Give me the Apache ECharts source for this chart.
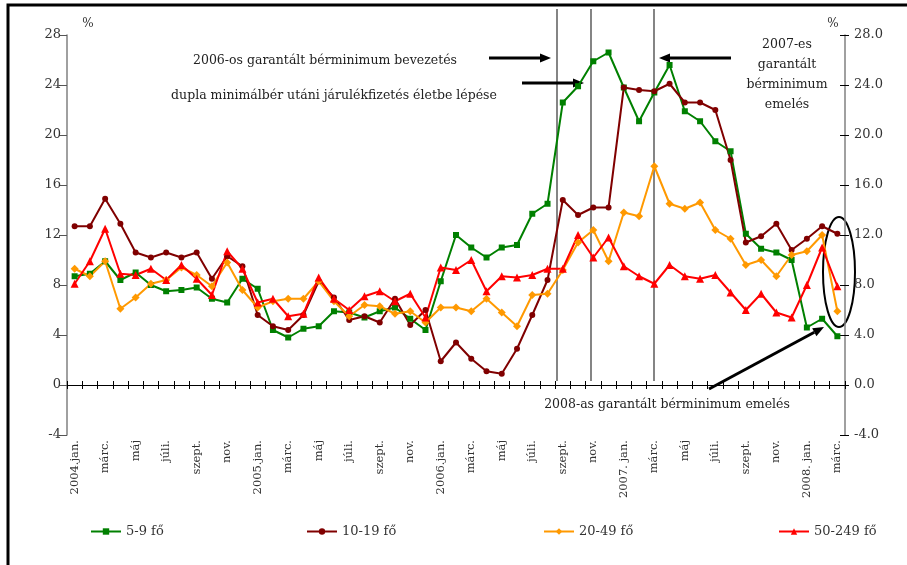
<!DOCTYPE html>
<html>
<head>
<meta charset="utf-8">
<script src="https://cdn.jsdelivr.net/npm/echarts@6/dist/echarts.min.js"></script>
<style>
  html, body { margin: 0; padding: 0; background: #fff; }
  #chart { width: 907px; height: 565px; }
</style>
</head>
<body>
<div id="chart"></div>
<script>
// months 2004.jan - 2008.márc
const months = [
  '2004.jan.', 'febr.', 'márc.', 'ápr.', 'máj', 'jún.', 'júli.', 'aug.', 'szept.', 'okt.', 'nov.', 'dec.',
  '2005.jan.', 'febr.', 'márc.', 'ápr.', 'máj', 'jún.', 'júli.', 'aug.', 'szept.', 'okt.', 'nov.', 'dec.',
  '2006.jan.', 'febr.', 'márc.', 'ápr.', 'máj', 'jún.', 'júli.', 'aug.', 'szept.', 'okt.', 'nov.', 'dec.',
  '2007. jan.', 'febr.', 'márc.', 'ápr.', 'máj', 'jún.', 'júli.', 'aug.', 'szept.', 'okt.', 'nov.', 'dec.',
  '2008. jan.', 'febr.', 'márc.'
];
const categories = months.map((m, i) => (2004 + Math.floor(i / 12)) + '-' + (i % 12 + 1));

const seriesNames = ['5-9 fő', '10-19 fő', '20-49 fő', '50-249 fő'];

const small = [
  8.7, 8.9, 9.9, 8.4, 9.0, 8.0, 7.5, 7.6, 7.8, 6.9, 6.6, 8.5,
  7.7, 4.4, 3.8, 4.5, 4.7, 5.9, 5.8, 5.4, 5.9, 6.2, 5.3, 4.4,
  8.3, 12.0, 11.0, 10.2, 11.0, 11.2, 13.7, 14.5, 22.6, 23.9, 25.9, 26.6,
  23.8, 21.1, 23.4, 25.6, 21.9, 21.1, 19.5, 18.7, 12.1, 10.9, 10.6, 10.0,
  4.6, 5.3, 3.9
];
const medium = [
  12.7, 12.7, 14.9, 12.9, 10.6, 10.2, 10.6, 10.2, 10.6, 8.5, 10.3, 9.5,
  5.6, 4.7, 4.4, 5.6, 8.3, 7.0, 5.2, 5.5, 5.0, 6.9, 4.8, 6.0,
  1.9, 3.4, 2.1, 1.1, 0.9, 2.9, 5.6, 8.4, 14.8, 13.6, 14.2, 14.2,
  23.8, 23.6, 23.5, 24.1, 22.6, 22.6, 22.0, 18.0, 11.4, 11.9, 12.9, 10.8,
  11.7, 12.7, 12.1
];
const larger = [
  9.3, 8.7, 9.9, 6.1, 7.0, 8.1, 8.4, 9.4, 8.8, 7.9, 9.8, 7.6,
  6.2, 6.7, 6.9, 6.9, 8.3, 6.7, 5.5, 6.4, 6.3, 5.7, 5.9, 5.0,
  6.2, 6.2, 5.9, 6.9, 5.8, 4.7, 7.2, 7.3, 9.2, 11.4, 12.4, 9.9,
  13.8, 13.5, 17.5, 14.5, 14.1, 14.6, 12.4, 11.7, 9.6, 10.0, 8.7, 10.4,
  10.7, 12.0, 5.9
];
const largest = [
  8.1, 9.9, 12.5, 8.9, 8.8, 9.3, 8.4, 9.6, 8.5, 7.2, 10.7, 9.3,
  6.6, 6.9, 5.5, 5.7, 8.6, 6.9, 6.0, 7.1, 7.5, 6.7, 7.3, 5.4,
  9.4, 9.2, 10.0, 7.5, 8.7, 8.6, 8.8, 9.3, 9.3, 12.0, 10.2, 11.8,
  9.5, 8.7, 8.1, 9.6, 8.7, 8.5, 8.8, 7.4, 6.0, 7.3, 5.8, 5.4,
  8.0, 11.0, 7.9
];

const colors = ['#008000', '#800000', '#ff9900', '#ff0000'];
const symbols = ['rect', 'circle', 'diamond', 'triangle'];
const symbolSizes = [6, 6, 8, 8];
const values = [small, medium, larger, largest];

const FONT = 'DejaVu Serif';
const TXT = '#333';

const chart = echarts.init(document.getElementById('chart'));

function arrow(x1, y1, x2, y2) {
  const a = Math.atan2(y2 - y1, x2 - x1);
  const len = 11, w = 4.5;
  const bx = x2 - len * Math.cos(a), by = y2 - len * Math.sin(a);
  return [
    { type: 'line', shape: { x1: x1, y1: y1, x2: bx, y2: by }, style: { stroke: '#000', lineWidth: 3 } },
    { type: 'polygon', shape: { points: [[x2, y2],
        [bx + w * Math.sin(a), by - w * Math.cos(a)],
        [bx - w * Math.sin(a), by + w * Math.cos(a)]] }, style: { fill: '#000' } }
  ];
}

function text(x, y, s, align) {
  return { type: 'text', x: x, y: y, style: {
    text: s, fill: '#222', font: '12.5px "' + FONT + '"', align: align || 'center', verticalAlign: 'middle' } };
}

function vline(x) {
  return { type: 'line', shape: { x1: x, y1: 9, x2: x, y2: 381 }, style: { stroke: '#333', lineWidth: 1.2 } };
}

const yRange = { min: -4, max: 28, interval: 4 };

const legends = seriesNames.map((n, i) => ({
  data: [n],
  left: [85, 301, 538, 773][i],
  top: 520,
  itemWidth: 30,
  itemHeight: 8,
  itemGap: 4,
  textStyle: { fontFamily: FONT, fontSize: 13, color: TXT }
}));

chart.setOption({
  animation: false,
  backgroundColor: '#fff',
  legend: legends,
  grid: [
    { left: 67, right: 62, top: 35, bottom: 130 },
    { left: 67, right: 62, top: 35, bottom: 130 }
  ],
  xAxis: [
    {
      type: 'category', gridIndex: 0, position: 'bottom', data: categories, boundaryGap: true,
      axisLine: { onZero: true, lineStyle: { color: '#000', width: 1 } },
      axisTick: { show: true, interval: 0, length: 4, lineStyle: { color: '#000' } },
      axisLabel: {
        interval: 1, rotate: 90, margin: 5,
        fontFamily: FONT, fontSize: 11.5, color: TXT,
        formatter: (v, i) => months[i]
      },
      splitLine: { show: false }
    },
    {
      type: 'category', gridIndex: 0, position: 'top', data: categories, boundaryGap: true,
      axisLine: { show: false, onZero: true },
      axisTick: { show: true, interval: 0, length: 4, lineStyle: { color: '#000' } },
      axisLabel: { show: false },
      splitLine: { show: false }
    },
    {
      type: 'category', gridIndex: 1, data: categories, show: false
    }
  ],
  yAxis: [
    {
      type: 'value', gridIndex: 0, position: 'left', ...yRange,
      axisLine: { show: true, lineStyle: { color: '#808080', width: 1.5 } },
      axisTick: { show: true, length: 8, lineStyle: { color: '#555' } },
      axisLabel: { fontFamily: FONT, fontSize: 13, color: TXT, margin: 6 },
      splitLine: { show: false }
    },
    {
      type: 'value', gridIndex: 0, position: 'right', ...yRange,
      axisLine: { show: true, lineStyle: { color: '#808080', width: 1.5 } },
      axisTick: { show: true, length: 4, lineStyle: { color: '#000' } },
      axisLabel: { fontFamily: FONT, fontSize: 13, color: TXT, margin: 9, formatter: v => v.toFixed(1) },
      splitLine: { show: false }
    },
    {
      type: 'value', gridIndex: 1, position: 'right', ...yRange,
      axisLine: { show: false },
      axisTick: { show: true, inside: true, length: 5, lineStyle: { color: '#000' } },
      axisLabel: { show: false },
      splitLine: { show: false }
    }
  ],
  series: seriesNames.map((n, i) => ({
    name: n,
    type: 'line',
    xAxisIndex: 0,
    yAxisIndex: 0,
    data: values[i],
    symbol: symbols[i],
    symbolSize: symbolSizes[i],
    color: colors[i],
    lineStyle: { width: 2 },
    itemStyle: { color: colors[i] }
  })),
  graphic: [
    { type: 'rect', shape: { x: 8, y: 5, width: 1200, height: 1200 }, style: { fill: null, stroke: '#000', lineWidth: 3 }, silent: true },
    { type: 'text', x: 88, y: 24, style: { text: '%', fill: TXT, font: '12px "' + FONT + '"', align: 'center', verticalAlign: 'middle' } },
    { type: 'text', x: 833, y: 24, style: { text: '%', fill: TXT, font: '12px "' + FONT + '"', align: 'center', verticalAlign: 'middle' } },
    vline(557), vline(591), vline(654),
    text(325, 61, '2006-os garantált bérminimum bevezetés'),
    text(334, 96, 'dupla minimálbér utáni járulékfizetés életbe lépése'),
    text(787, 45, '2007-es'),
    text(787, 65, 'garantált'),
    text(787, 85, 'bérminimum'),
    text(787, 105, 'emelés'),
    text(667, 405, '2008-as garantált bérminimum emelés'),
    ...arrow(489, 58, 551, 58),
    ...arrow(522, 83, 584, 83),
    ...arrow(731, 58, 659, 58),
    ...arrow(709, 389, 824, 327),
    { type: 'ellipse', shape: { cx: 839, cy: 272, rx: 16, ry: 55 }, style: { fill: null, stroke: '#000', lineWidth: 2 } }
  ]
});
</script>
</body>
</html>
